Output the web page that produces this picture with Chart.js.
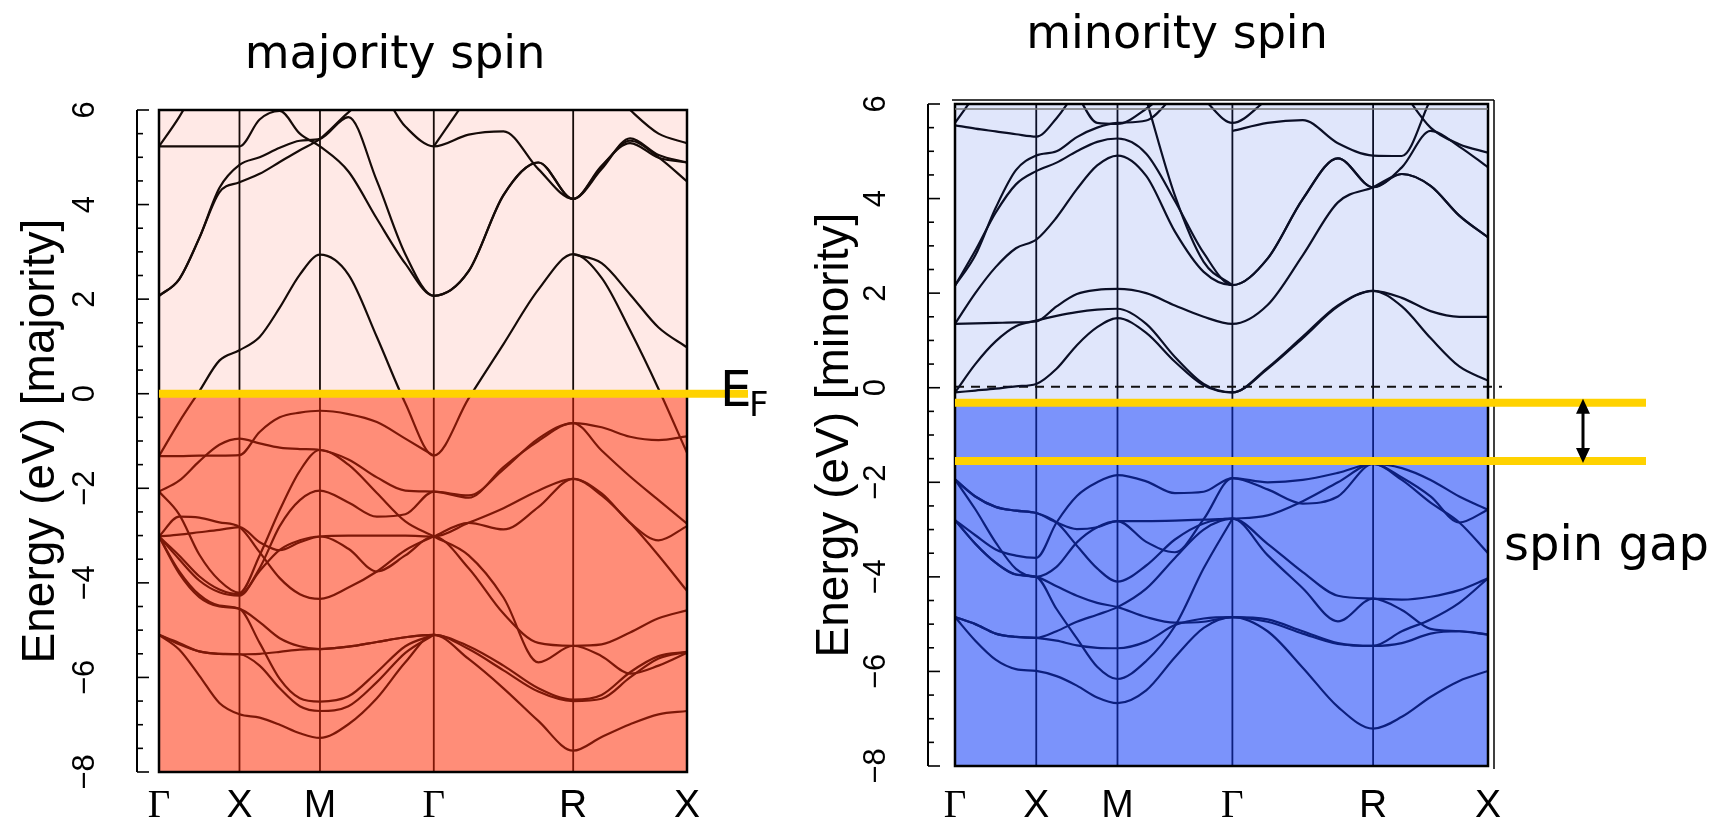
<!DOCTYPE html>
<html>
<head>
<meta charset="utf-8">
<script src="https://cdn.jsdelivr.net/npm/chart.js@4.4.1/dist/chart.umd.min.js"></script>
<style>
html, body { margin: 0; padding: 0; background: #fff; overflow: hidden; }
#wrap { position: relative; width: 1715px; height: 821px; }
canvas { position: absolute; left: 0; top: 0; }
</style>
</head>
<body>
<div id="wrap">
  <canvas id="majChart" width="1715" height="821"></canvas>
  <canvas id="minChart" width="1715" height="821"></canvas>
</div>
<script>
// --- k-path and energy window ---
const kLabels = ['Γ', 'X', 'M', 'Γ', 'R', 'X'];
const kNodes = [0, 0.5, 1.0, 1.7071, 2.5731, 3.2802];
const energyMin = -8;
const energyMax = 6;
const eFermi = 0;
const spinGapTop = -0.32;
const spinGapBottom = -1.55;
const minorityDashed = 0.02;

// every band is sampled at 5 points per path segment (21 values, Γ X M Γ R X)
const _ = null;

// --- majority spin bands (eV) ---
const majC1 = [-1.32, -0.6, 0.05, 0.7, 0.92, 1.2, 1.82, 2.52, 2.94, 2.52, 1.2, -0.2, -1.31, -0.1, 1.05, 2.2, 2.95, 2.45, 1.34, 0.1, -1.25];
const majC2 = [2.07, 2.42, 3.29, 4.26, 4.47, 4.65, 4.9, 5.15, 5.39, 5.95, 6.4, 5.65, 5.23, 5.48, 5.55, 4.75, 4.12, 4.82, 5.3, 4.99, 4.89];
const majC3 = [5.23, 5.23, 5.23, 5.23, 5.23, 5.8, 5.98, 5.5, 5.23, 4.7, 3.7, 2.75, 2.07, 2.59, 4.2, 4.89, 4.12, 4.8, 5.35, 5.0, 4.49];
const majC4 = [2.07, 2.42, 3.29, 4.35, 4.84, 5.0, 5.2, 5.35, 5.39, 5.85, 4.5, 2.95, 2.07, 2.59, 4.2, 4.89, 4.12, 4.75, 5.4, 5.05, 4.89];
const majC5 = [_, _, _, _, _, _, _, _, _, _, _, _, _, _, _, _, 2.95, 2.76, 2.1, 1.4, 0.98];
const majC6 = [5.23, 5.85, 6.6, _, _, _, _, _, _, _, _, _, _, _, _, _, _, _, _, _, _];
const majC7 = [_, _, _, _, _, _, _, _, _, _, _, _, 5.23, 6.3, _, _, _, _, _, _, _];
const majC8 = [_, _, _, _, _, _, _, _, _, _, _, _, _, _, _, _, _, 6.6, 6.0, 5.5, 5.3];

const majV1 = [-2.07, -1.84, -1.43, -1.08, -0.95, -1.05, -1.14, -1.17, -1.19, -1.39, -1.77, -2.05, -2.07, -2.15, -1.6, -0.95, -0.62, -0.71, -0.91, -0.98, -0.9];
const majV2 = [-1.32, -1.32, -1.31, -1.31, -1.3, -0.81, -0.5, -0.4, -0.36, -0.43, -0.6, -0.95, -1.31, _, _, _, _, _, _, _, _];
const majV3 = [-3.02, -2.98, -2.93, -2.88, -2.82, -3.14, -3.31, -3.14, -3.02, -3.0, -3.0, -3.0, -3.02, -2.73, -2.42, -2.05, -1.8, -2.11, -2.73, -3.1, -2.8];
const majV4 = [-3.02, -3.42, -3.86, -4.14, -4.24, -3.69, -2.8, -2.25, -2.05, -2.3, -2.6, -2.55, -2.07, -2.2, -1.55, -1.0, -0.62, -1.2, -1.75, -2.25, -2.75];
const majV5 = [-3.02, -3.5, -3.95, -4.2, -4.27, -3.75, -3.3, -3.1, -3.02, -3.28, -3.76, -3.42, -3.02, -3.69, -4.65, -5.27, -5.33, -5.3, -5.05, -4.75, -4.58];
const majV6 = [-2.07, -2.55, -3.4, -3.95, -4.21, -3.42, -2.46, -1.63, -1.19, -1.5, -2.1, -2.7, -3.02, -3.42, -4.31, -5.68, -5.33, -5.55, -5.92, -5.75, -5.48];
const majV7 = [-3.02, -2.6, -2.62, -2.72, -2.82, -3.35, -3.9, -4.24, -4.34, -4.1, -3.76, -3.31, -3.02, -2.73, -2.87, -2.4, -1.8, -2.15, -2.73, -3.42, -4.17];
const majV8 = [-3.02, -3.8, -4.3, -4.5, -4.55, -4.83, -5.17, -5.34, -5.4, -5.35, -5.25, -5.15, -5.1, -5.34, -5.75, -6.23, -6.47, -6.37, -5.89, -5.55, -5.46];
const majV9 = [-5.1, -5.27, -5.45, -5.5, -5.51, -5.5, -5.46, -5.41, -5.4, -5.35, -5.25, -5.15, -5.1, -5.61, -6.23, -6.92, -7.55, -7.26, -6.99, -6.78, -6.71];
const majV10 = [-5.1, -5.41, -5.96, -6.54, -6.78, -6.85, -7.0, -7.18, -7.28, -6.99, -6.44, -5.68, -5.1, -5.4, -5.85, -6.3, -6.5, -6.45, -6.0, -5.6, -5.46];
const majV11 = [-3.02, -3.75, -4.25, -4.48, -4.55, -5.27, -6.03, -6.44, -6.51, -6.4, -5.89, -5.34, -5.1, _, _, _, _, _, _, _, _];
const majV12 = [-5.1, -5.3, -5.45, -5.5, -5.51, -5.75, -6.23, -6.61, -6.71, -6.61, -6.1, -5.48, -5.1, _, _, _, _, _, _, _, _];

// --- minority spin bands (eV) ---
const minC1 = [-0.1, -0.06, -0.02, 0.03, 0.08, 0.4, 0.9, 1.28, 1.47, 1.16, 0.55, 0.05, -0.1, 0.4, 1.05, 1.72, 2.05, 1.72, 1.05, 0.45, 0.15];
const minC2 = [-0.1, 0.5, 0.98, 1.3, 1.42, 1.52, 1.6, 1.65, 1.67, 1.35, 0.65, 0.08, -0.1, 0.42, 1.08, 1.74, 2.05, 1.9, 1.62, 1.5, 1.5];
const minC3 = [1.35, 1.36, 1.37, 1.38, 1.4, 1.72, 1.98, 2.07, 2.09, 2.0, 1.74, 1.5, 1.35, 1.75, 2.8, 3.92, 4.24, 4.52, 4.27, 3.64, 3.18];
const minC4 = [1.35, 2.0, 2.55, 2.95, 3.13, 3.6, 4.2, 4.7, 4.91, 4.48, 3.3, 2.45, 2.17, 2.73, 3.99, 4.85, 4.24, 4.66, 5.43, 5.1, 4.66];
const minC5 = [2.16, 2.9, 3.7, 4.3, 4.58, 4.76, 5.0, 5.2, 5.27, 4.95, 3.95, 2.85, 2.17, 2.73, 3.99, 4.85, 4.24, 4.52, 4.27, 3.64, 3.18];
const minC6 = [5.55, 5.48, 5.42, 5.36, 5.31, 5.7, 6.3, _, _, _, _, _, _, _, _, _, _, _, _, _, _];
const minC7 = [2.16, 2.8, 3.8, 4.6, 4.91, 5.0, 5.3, 5.5, 5.6, 5.65, 6.2, _, _, _, _, _, _, _, _, _, _];
const minC8 = [_, _, _, _, _, _, _, _, _, 6.1, 4.06, 2.66, 2.17, _, _, _, _, _, _, _, _];
const minC9 = [_, _, _, _, _, _, _, _, _, _, _, _, 5.43, 5.6, 5.66, 5.17, 4.91, 4.9, 6.1, _, _];
const minC10 = [_, _, _, _, _, _, _, _, _, _, _, 6.1, 5.6, 6.1, _, _, _, _, _, _, _];
const minC11 = [_, _, _, _, _, _, _, _, _, _, _, _, _, _, _, _, _, 6.3, 5.5, 5.15, 4.97];
const minC12 = [_, _, _, _, _, _, 6.2, 5.6, 5.58, 5.9, 6.4, _, _, _, _, _, _, _, _, _, _];
const minC13 = [5.6, 6.2, _, _, _, _, _, _, _, _, _, _, _, _, _, _, _, _, _, _, _];

const minV1 = [-1.94, -2.3, -2.52, -2.6, -2.65, -2.85, -2.99, -2.95, -2.82, -2.82, -2.81, -2.79, -2.77, -2.7, -2.4, -2.0, -1.61, -1.7, -1.95, -2.3, -2.58];
const minV2 = [-1.94, -2.57, -3.27, -3.83, -4.0, -3.79, -3.27, -2.95, -2.82, -3.26, -3.48, -2.78, -1.91, -2.15, -2.45, -2.3, -1.61, -1.9, -2.3, -2.85, -2.58];
const minV3 = [-2.8, -3.12, -3.42, -3.55, -3.6, -2.85, -2.29, -2.0, -1.85, -1.98, -2.23, -2.2, -1.91, -2.0, -1.95, -1.8, -1.61, -1.95, -2.43, -2.85, -3.5];
const minV4 = [-1.94, -2.3, -2.52, -2.6, -2.65, -2.85, -3.34, -3.82, -4.1, -3.76, -3.21, -2.87, -2.77, -3.3, -3.9, -4.4, -4.46, -4.48, -4.42, -4.28, -4.03];
const minV5 = [-2.8, -3.3, -3.7, -3.95, -4.0, -4.2, -4.4, -4.55, -4.64, -4.85, -4.97, -4.95, -4.85, -4.9, -5.15, -5.4, -5.46, -5.4, -5.2, -5.15, -5.22];
const minV6 = [-4.85, -5.0, -5.2, -5.27, -5.29, -5.15, -4.95, -4.8, -4.64, -4.25, -3.6, -3.0, -2.77, -3.54, -4.24, -4.94, -4.46, -4.7, -5.1, -5.15, -5.22];
const minV7 = [-4.85, -5.0, -5.2, -5.27, -5.29, -5.35, -5.45, -5.5, -5.51, -5.37, -5.02, -4.88, -4.85, -5.15, -5.92, -6.75, -7.21, -6.96, -6.54, -6.2, -5.99];
const minV8 = [-4.85, -5.35, -5.75, -5.95, -5.99, -6.1, -6.3, -6.55, -6.67, -6.4, -5.7, -5.08, -4.85, -4.95, -5.2, -5.42, -5.46, -5.15, -4.9, -4.55, -4.03];
const minV9 = [-2.8, -3.3, -3.7, -3.95, -4.0, -4.68, -5.3, -5.9, -6.16, -5.78, -5.04, -3.82, -2.77, _, _, _, _, _, _, _, _];

const majorityBands = [majC1, majC2, majC3, majC4, majC5, majC6, majC7, majC8,
    majV1, majV2, majV3, majV4, majV5, majV6, majV7, majV8, majV9, majV10, majV11, majV12];
const minorityBands = [minC1, minC2, minC3, minC4, minC5, minC6, minC7, minC8, minC9, minC10, minC11, minC12, minC13,
    minV1, minV2, minV3, minV4, minV5, minV6, minV7, minV8, minV9];

// k grid: 4 steps per segment
const kGrid = [kNodes[0]];
for (let i = 1; i < kNodes.length; i++) {
    for (let j = 1; j <= 4; j++) kGrid.push(kNodes[i - 1] + (kNodes[i] - kNodes[i - 1]) * j / 4);
}

const SANS = "'Liberation Sans', Arial, sans-serif";
const SERIF = "'Liberation Serif', 'DejaVu Serif', serif";
const VERDANA = "'DejaVu Sans', sans-serif";

function strokeLine(ctx, x1, y1, x2, y2) {
    ctx.beginPath();
    ctx.moveTo(x1, y1);
    ctx.lineTo(x2, y2);
    ctx.stroke();
}

// line colour changes at the split energy (black above, tinted below)
function splitGradient(chart, split, hi, lo) {
    const { ctx, chartArea, scales } = chart;
    if (!chartArea) return hi;
    const ys = scales.y.getPixelForValue(split);
    const f = Math.min(1, Math.max(0, (ys - chartArea.top) / (chartArea.bottom - chartArea.top)));
    const g = ctx.createLinearGradient(0, chartArea.top, 0, chartArea.bottom);
    g.addColorStop(0, hi);
    g.addColorStop(f, hi);
    g.addColorStop(f, lo);
    g.addColorStop(1, lo);
    return g;
}

function bandDatasets(bands, p) {
    return bands.map((b) => ({
        data: kGrid.map((k, i) => ({ x: k, y: b[i] })),
        borderColor: (c) => splitGradient(c.chart, p.split, p.hiLine, p.loLine),
        borderWidth: 2.2,
        pointRadius: 0,
        fill: false,
        spanGaps: false,
        cubicInterpolationMode: 'monotone'
    }));
}

function fmtTick(v) {
    if (v === 0) return '0';
    return v < 0 ? '\u2212' + Math.abs(v) : String(v);
}

function makeDecor(p) {
    return {
        id: 'panelDecor',
        beforeDatasetsDraw(chart) {
            const { ctx, chartArea: a, scales: { x, y } } = chart;
            const ys = y.getPixelForValue(p.split);
            ctx.save();
            ctx.fillStyle = p.hiFill;
            ctx.fillRect(a.left, a.top, a.right - a.left, ys - a.top);
            ctx.fillStyle = p.loFill;
            ctx.fillRect(a.left, ys, a.right - a.left, a.bottom - ys);

            // high-symmetry verticals
            ctx.lineWidth = 1.8;
            kNodes.forEach((k) => {
                const px = x.getPixelForValue(k);
                ctx.strokeStyle = p.hiLine;
                strokeLine(ctx, px, a.top, px, ys);
                ctx.strokeStyle = p.loLine;
                strokeLine(ctx, px, ys, px, a.bottom);
            });

            if (p.dashedAt !== undefined) {
                const yd = y.getPixelForValue(p.dashedAt);
                ctx.setLineDash([9, 7]);
                ctx.strokeStyle = '#111';
                ctx.lineWidth = 1.8;
                strokeLine(ctx, a.left, yd, a.right + 14, yd);
                ctx.setLineDash([]);
            }
            ctx.restore();
        },
        afterDatasetsDraw(chart) {
            const { ctx, chartArea: a, scales: { y } } = chart;
            ctx.save();

            // frame
            ctx.strokeStyle = '#000';
            ctx.lineWidth = 2.5;
            ctx.strokeRect(a.left, a.top, a.right - a.left, a.bottom - a.top);
            if (p.doubleFrame) {
                ctx.lineWidth = 1.5;
                strokeLine(ctx, a.left - 3, a.top - 4, a.right + 6, a.top - 4);
                strokeLine(ctx, a.right + 6, a.top - 4, a.right + 6, a.bottom + 3);
                ctx.strokeStyle = '#777';
                strokeLine(ctx, a.left, a.top + 5, a.right, a.top + 5);
            }

            // yellow marker lines
            ctx.strokeStyle = '#ffd200';
            ctx.lineWidth = 8;
            p.yellow.forEach((v) => {
                const yy = y.getPixelForValue(v);
                strokeLine(ctx, a.left, yy, p.yellowEnd, yy);
            });

            // y axis with inward ticks and rotated labels
            const ax = a.left - p.axisGap;
            ctx.strokeStyle = '#000';
            ctx.lineWidth = 2;
            strokeLine(ctx, ax, y.getPixelForValue(energyMax), ax, y.getPixelForValue(energyMin));
            ctx.fillStyle = '#000';
            ctx.font = '31px ' + SANS;
            ctx.textAlign = 'center';
            ctx.textBaseline = 'middle';
            y.ticks.forEach((t) => {
                const yy = y.getPixelForValue(t.value);
                const major = Math.abs(t.value % 2) < 1e-6;
                ctx.lineWidth = 1.6;
                strokeLine(ctx, ax, yy, ax + (major ? 12 : 6), yy);
                if (major) {
                    ctx.save();
                    ctx.translate(ax - 52, yy);
                    ctx.rotate(-Math.PI / 2);
                    ctx.fillText(fmtTick(t.value), 0, 0);
                    ctx.restore();
                }
            });

            // panel title
            ctx.font = '46px ' + VERDANA;
            ctx.textAlign = 'center';
            ctx.textBaseline = 'alphabetic';
            ctx.fillText(p.title, p.titleX, p.titleY);

            if (p.extra) p.extra(ctx, chart);
            ctx.restore();
        }
    };
}

function makeChart(canvasId, bands, p) {
    return new Chart(document.getElementById(canvasId), {
        type: 'line',
        data: { datasets: bandDatasets(bands, p) },
        options: {
            responsive: false,
            animation: false,
            devicePixelRatio: 1,
            layout: { padding: p.padding },
            plugins: { legend: { display: false }, tooltip: { enabled: false } },
            scales: {
                x: {
                    type: 'linear',
                    min: kNodes[0],
                    max: kNodes[kNodes.length - 1],
                    afterBuildTicks: (s) => { s.ticks = kNodes.map((v) => ({ value: v })); },
                    afterFit: (s) => { s.height = p.xHeight; },
                    grid: { display: false, drawTicks: false },
                    border: { display: false },
                    ticks: {
                        autoSkip: false,
                        maxRotation: 0,
                        padding: p.xPad,
                        color: '#000',
                        callback: (v, i) => kLabels[i],
                        font: (c) => ({
                            family: c.tick && c.tick.label === 'Γ' ? SERIF : SANS,
                            size: 39
                        })
                    }
                },
                y: {
                    type: 'linear',
                    position: 'left',
                    min: energyMin,
                    max: energyMax,
                    afterFit: (s) => { s.width = p.yWidth; },
                    grid: { display: false },
                    border: { display: false },
                    ticks: { stepSize: 0.5, display: false },
                    title: {
                        display: true,
                        text: p.yTitle,
                        color: '#000',
                        font: { family: SANS, size: 46 },
                        padding: { top: p.yTitlePad, bottom: 0 }
                    }
                }
            }
        },
        plugins: [makeDecor(p)]
    });
}

// --- majority panel ---
makeChart('majChart', majorityBands, {
    split: eFermi,
    hiFill: '#ffe9e6',
    loFill: '#ff8d78',
    hiLine: '#160b08',
    loLine: '#7d1707',
    padding: { left: 0, right: 1028, top: 110, bottom: 0 },
    yWidth: 159,
    xHeight: 49,
    xPad: 11,
    yTitle: 'Energy (eV) [majority]',
    yTitlePad: 14,
    axisGap: 22,
    yellow: [eFermi],
    yellowEnd: 748,
    title: 'majority spin',
    titleX: 395,
    titleY: 68,
    extra: (ctx) => {
        ctx.textAlign = 'left';
        ctx.font = '50px ' + VERDANA;
        ctx.fillText('E', 720, 406);
        ctx.font = '34px ' + VERDANA;
        ctx.fillText('F', 749, 416);
    }
});

// --- minority panel ---
makeChart('minChart', minorityBands, {
    split: spinGapTop,
    hiFill: '#e0e6fb',
    loFill: '#7b93fb',
    hiLine: '#0b0f26',
    loLine: '#0c1f7e',
    padding: { left: 800, right: 227, top: 104, bottom: 0 },
    yWidth: 155,
    xHeight: 55,
    xPad: 17,
    yTitle: 'Energy (eV) [minority]',
    yTitlePad: 8,
    axisGap: 27,
    dashedAt: minorityDashed,
    doubleFrame: true,
    yellow: [spinGapTop, spinGapBottom],
    yellowEnd: 1646,
    title: 'minority spin',
    titleX: 1177,
    titleY: 48,
    extra: (ctx, chart) => {
        const y = chart.scales.y;
        const ax = 1583;
        const top = y.getPixelForValue(spinGapTop) - 4;
        const bot = y.getPixelForValue(spinGapBottom) + 2;
        ctx.strokeStyle = '#000';
        ctx.fillStyle = '#000';
        ctx.lineWidth = 3;
        strokeLine(ctx, ax, top + 12, ax, bot - 12);
        ctx.beginPath();
        ctx.moveTo(ax, top); ctx.lineTo(ax - 7, top + 15); ctx.lineTo(ax + 7, top + 15); ctx.closePath();
        ctx.fill();
        ctx.beginPath();
        ctx.moveTo(ax, bot); ctx.lineTo(ax - 7, bot - 15); ctx.lineTo(ax + 7, bot - 15); ctx.closePath();
        ctx.fill();
        ctx.textAlign = 'left';
        ctx.font = '48px ' + VERDANA;
        ctx.fillText('spin gap', 1504, 560);
    }
});
</script>
</body>
</html>
